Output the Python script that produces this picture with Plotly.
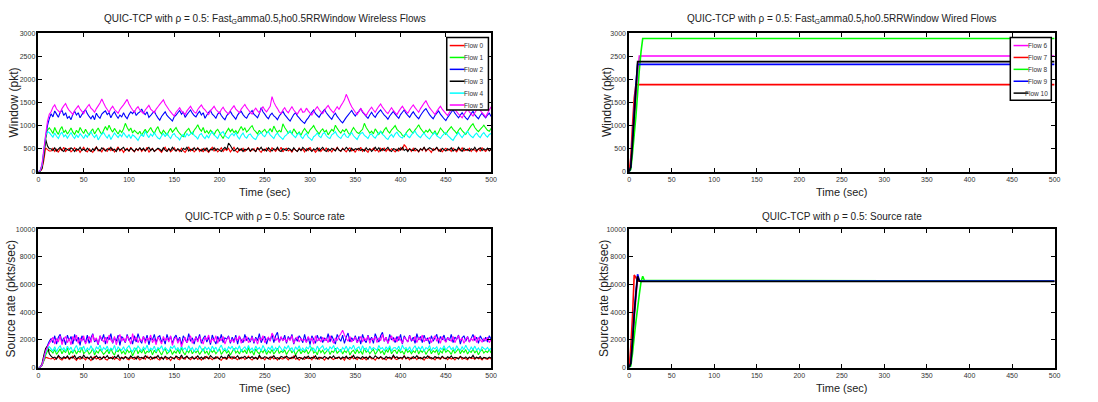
import plotly.graph_objects as go

# ---------------- data ----------------
T_WL = list(range(0, 501, 2))  # wireless time samples (sec)

win_flow0 = [0, 10, 60, 250, 520, 480, 450,
    450,510,440,490,420,500,460,530,440,480,
    510,430,470,520,450,490,420,480,530,460,
    430,500,460,420,490,540,450,480,430,510,
    470,440,520,460,500,430,480,540,450,490,
    420,480,510,440,530,470,430,500,460,520,
    440,490,450,530,420,480,510,440,470,500,
    460,420,490,530,450,500,430,470,520,450,
    490,440,510,460,420,480,540,450,500,430,
    470,520,440,490,430,510,460,420,480,530,
    450,500,430,470,520,440,490,460,510,430,
    480,530,450,420,490,460,510,440,480,520,
    440,470,500,430,530,460,420,490,450,510,
    470,430,520,480,440,500,460,530,430,490,
    510,450,480,420,500,470,440,520,460,490,
    430,500,460,530,450,480,420,470,510,440,
    490,460,520,440,480,430,500,460,530,470,
    440,510,470,430,490,520,450,480,420,500,
    460,530,440,490,460,420,500,470,510,450,
    480,430,510,460,520,440,490,450,500,470,
    430,490,450,520,470,590,540,460,500,440,
    510,450,480,430,500,460,530,440,490,470,
    420,500,470,520,450,490,430,480,510,460,
    490,440,510,470,430,500,460,520,450,480,
    460,510,440,490,470,430,500,450,520,470,
    440,490,460,480]
win_flow1 = [0, 20, 120, 400, 700, 900, 950,
    900,830,960,870,810,920,980,850,900,820,
    880,950,860,810,900,840,960,890,830,920,
    850,790,880,930,820,890,950,870,810,900,
    980,900,1010,920,860,940,880,820,900,850,
    930,1050,960,890,950,840,900,860,820,880,
    790,860,920,840,900,960,880,830,920,980,
    870,820,900,850,800,880,940,860,910,960,
    880,830,790,760,850,900,940,860,820,900,
    950,1020,930,880,960,840,890,830,900,860,
    800,880,920,850,780,720,810,880,940,870,
    920,850,890,830,910,980,900,950,860,900,
    960,1000,910,870,820,900,840,880,920,850,
    870,940,860,990,910,850,900,860,1040,960,
    900,840,880,820,930,870,810,860,790,880,
    940,880,830,910,950,1000,920,870,820,890,
    930,860,900,800,860,920,880,1010,940,880,
    840,910,870,930,850,800,890,960,900,850,
    830,880,920,1050,960,900,840,880,820,930,
    870,810,880,830,910,960,880,840,910,950,
    1000,920,880,850,790,760,840,890,930,870,
    840,910,960,1020,940,890,840,900,860,920,
    860,820,890,790,860,950,900,850,810,880,
    930,980,920,880,830,900,950,890,850,810,
    880,940,1000,1040,960,910,870,920,960,1010,
    950,900,880,940]
win_flow2 = [0, 30, 150, 450, 750, 1000, 1150,
    1260,1190,1320,1250,1180,1290,1330,1220,1280,1160,
    1200,1130,1250,1310,1230,1280,1170,1240,1300,1350,
    1260,1200,1150,1220,1130,1270,1200,1160,1250,1290,
    1320,1240,1280,1170,1250,1300,1220,1160,1230,1190,
    1280,1200,1150,1240,1300,1260,1320,1220,1270,1300,
    1360,1280,1240,1300,1180,1220,1270,1310,1230,1170,
    1120,1200,1250,1300,1220,1180,1140,1100,1190,1230,
    1280,1330,1250,1300,1180,1240,1290,1340,1270,1220,
    1190,1260,1310,1230,1280,1160,1230,1290,1330,1250,
    1210,1160,1250,1290,1220,1170,1130,1220,1260,1310,
    1240,1190,1140,1230,1280,1310,1240,1190,1160,1240,
    1280,1330,1250,1210,1170,1260,1390,1300,1250,1190,
    1150,1230,1270,1210,1180,1130,1210,1260,1310,1240,
    1190,1140,1100,1170,1240,1280,1210,1170,1120,1080,
    1050,1120,1170,1230,1290,1340,1260,1220,1180,1250,
    1300,1350,1280,1230,1180,1140,1220,1270,1200,1150,
    1100,1060,1120,1180,1230,1280,1330,1260,1210,1270,
    1310,1370,1290,1250,1200,1160,1230,1290,1220,1180,
    1250,1300,1340,1280,1230,1190,1140,1210,1260,1310,
    1250,1200,1160,1240,1290,1340,1270,1220,1180,1250,
    1300,1240,1190,1150,1220,1280,1330,1370,1300,1240,
    1190,1150,1220,1270,1320,1250,1200,1150,1110,1180,
    1230,1290,1340,1270,1220,1170,1230,1280,1220,1170,
    1130,1200,1260,1310,1240,1190,1150,1220,1270,1210,
    1170,1230,1270,1200]
win_flow3 = [0, 10, 80, 350, 700, 560, 500,
    500,460,520,450,490,530,470,440,510,480,
    460,520,490,440,500,470,530,460,490,450,
    510,470,440,500,460,530,480,450,520,490,
    450,500,470,530,460,490,440,510,470,500,
    530,460,490,450,510,480,440,500,470,520,
    470,510,450,490,530,460,500,440,480,510,
    490,450,520,470,440,500,460,530,480,450,
    500,470,440,510,480,530,450,490,460,520,
    470,510,480,450,500,460,520,440,490,470,
    520,460,500,470,440,490,530,480,620,570,
    500,450,480,520,460,500,440,490,470,510,
    450,500,470,440,510,480,530,460,490,450,
    520,480,450,500,470,530,460,440,500,480,
    460,510,490,450,520,470,440,500,460,530,
    490,450,510,480,440,500,470,520,450,490,
    530,470,440,500,460,510,480,450,520,470,
    450,500,470,530,490,440,510,460,500,480,
    510,460,490,450,520,470,500,440,480,530,
    470,520,450,500,460,490,530,470,440,500,
    490,450,510,470,530,460,490,440,500,470,
    460,510,480,440,500,470,530,460,490,520,
    500,460,490,530,470,440,510,480,450,500,
    470,520,450,490,460,530,480,440,510,470,
    490,450,500,470,530,460,490,520,460,500,
    470,510,450,490]
win_flow4 = [0, 20, 130, 450, 800, 870, 850,
    800,750,840,770,720,810,860,760,800,730,
    790,850,770,720,800,740,830,780,720,800,
    750,830,870,790,740,810,690,760,820,850,
    780,730,810,700,770,840,790,740,810,760,
    850,790,740,810,720,800,770,730,680,760,
    810,760,880,800,740,820,770,850,780,730,
    710,780,830,760,840,770,720,800,830,760,
    740,690,770,810,750,830,780,820,860,790,
    760,710,800,830,760,720,790,730,820,870,
    800,760,720,810,840,870,790,750,720,790,
    830,780,850,760,710,790,840,760,730,800,
    820,760,720,700,780,820,850,790,760,830,
    870,800,760,720,800,840,780,740,700,770,
    800,850,890,820,780,740,810,840,760,720,
    790,830,750,720,680,760,790,840,770,740,
    820,850,780,740,720,800,830,870,790,750,
    720,790,830,760,740,810,850,780,740,700,
    780,830,850,790,760,720,800,820,760,730,
    790,840,870,810,780,730,700,770,810,750,
    820,860,790,750,730,790,830,770,740,800,
    850,880,810,770,740,800,840,780,740,710,
    770,820,850,780,750,720,780,820,850,790,
    750,710,680,750,800,850,790,740,800,840,
    880,810,770,740,800,840,780,740,810,850,
    790,750,810,830]
win_flow5 = [0, 30, 160, 500, 800, 1100, 1250,
    1300,1400,1450,1360,1320,1280,1370,1430,1480,1390,
    1330,1290,1240,1330,1380,1430,1360,1310,1260,1350,
    1410,1460,1380,1340,1290,1370,1430,1490,1580,1490,
    1410,1350,1290,1370,1420,1350,1310,1270,1350,1400,
    1450,1510,1570,1470,1400,1340,1290,1370,1410,1340,
    1300,1260,1340,1390,1440,1360,1320,1280,1360,1410,
    1460,1510,1560,1470,1410,1350,1300,1250,1210,1290,
    1340,1390,1320,1280,1240,1320,1370,1420,1350,1300,
    1270,1350,1400,1450,1380,1340,1290,1240,1320,1370,
    1420,1350,1310,1270,1350,1400,1330,1290,1250,1330,
    1380,1430,1360,1320,1280,1360,1410,1460,1390,1340,
    1290,1250,1330,1380,1320,1280,1350,1410,1340,1300,
    1360,1420,1630,1510,1430,1370,1300,1260,1340,1390,
    1320,1280,1350,1410,1340,1290,1250,1320,1370,1290,
    1300,1380,1320,1270,1230,1300,1360,1410,1350,1300,
    1260,1330,1390,1440,1370,1320,1280,1350,1410,1350,
    1430,1490,1560,1680,1590,1490,1410,1350,1290,1240,
    1310,1370,1310,1260,1220,1290,1350,1400,1340,1290,
    1360,1420,1470,1400,1350,1300,1260,1330,1390,1330,
    1280,1240,1310,1370,1420,1360,1310,1270,1340,1400,
    1450,1390,1340,1290,1370,1430,1490,1540,1460,1390,
    1340,1290,1240,1310,1370,1420,1360,1310,1260,1220,
    1290,1350,1410,1350,1300,1250,1210,1170,1240,1300,
    1360,1300,1250,1210,1280,1340,1390,1330,1280,1240,
    1190,1270,1340,1410]

rate_flow0 = [0, 20, 150, 500, 750, 700, 650,
    620,720,560,680,790,610,540,700,650,760,
    580,690,820,640,520,710,600,750,680,560,
    730,640,500,690,780,620,700,560,650,810,
    600,540,720,660,780,590,700,630,520,740,
    680,800,610,560,720,650,590,770,690,540,
    650,740,600,830,680,560,720,640,790,610,
    550,700,660,760,590,680,510,720,650,790,
    620,560,740,680,600,820,650,570,710,630,
    770,590,680,540,720,640,800,610,690,560,
    700,640,780,600,530,720,660,590,750,680,
    610,790,650,560,710,630,760,580,690,820,
    640,540,720,680,600,770,630,700,560,740,
    650,580,800,620,700,540,730,660,610,780,
    690,560,720,640,850,600,680,530,720,650,
    590,760,640,700,560,810,630,690,600,740,
    660,540,720,610,780,650,580,700,640,760,
    600,690,530,740,660,590,820,630,700,570,
    750,640,600,720,560,690,780,620,660,540,
    710,640,780,600,680,550,730,660,600,800,
    640,570,720,690,600,880,620,700,560,740,
    650,720,580,760,630,690,540,710,660,790,
    610,680,560,740,650,600,780,640,700,570,
    730,620,690,550,720,660,800,600,680,640,
    560,740,650,700,590,760,630,680,550,720,
    640,600,700,620]
rate_flow1 = [0, 20, 150, 500, 900, 1200, 1300,
    1200,1050,1300,950,1150,1350,1000,1250,1080,1400,
    920,1180,1050,1300,980,1220,1100,1450,1000,1150,
    1250,980,1120,1380,900,1200,1050,1320,1150,950,
    1100,1280,1000,1400,1080,900,1250,1150,1350,1020,
    1180,950,1300,1080,1220,850,1150,1420,1000,1250,
    1050,1350,980,1180,1100,1300,920,1250,1050,1400,
    1150,900,1200,1350,1000,1120,1280,950,1180,1050,
    1300,1000,1450,1100,920,1250,1080,1350,1000,1200,
    1080,1250,950,1150,1380,1020,1200,900,1300,1100,
    1250,1000,1180,1350,950,1150,1280,1050,1220,900,
    1150,1400,1050,1200,980,1300,1100,1250,1000,1450,
    1050,1200,900,1350,1120,1000,1250,1080,1320,950,
    1200,1050,1300,980,1150,1400,1020,1200,1100,1280,
    950,1180,1350,1050,1250,900,1150,1300,1000,1220,
    1100,1300,980,1200,1450,1050,1180,920,1350,1080,
    1250,1000,1150,1320,950,1200,1100,1400,1020,1180,
    1300,980,1220,1080,1350,900,1150,1250,1000,1300,
    1050,1200,950,1400,1100,1250,1000,1180,1320,950,
    1150,1350,1050,1200,920,1300,1100,1450,1000,1200,
    1250,1000,1300,1080,1180,950,1350,1100,1220,1000,
    1200,1080,1400,980,1250,1100,1300,950,1180,1350,
    1000,1220,1100,1300,900,1200,1050,1400,1100,1250,
    1150,950,1300,1050,1200,1380,1000,1250,1080,1300,
    980,1200,1100,1350,1050,1250,920,1180,1300,1050,
    1200,1100,1300,1050]
rate_flow2 = [0, 30, 200, 700, 1200, 1600, 1900,
    2100,1800,2300,1700,2200,2400,1850,2150,1650,2350,
    1950,2250,1700,2400,1900,2200,1600,2300,2050,1800,
    2350,1750,2150,2450,1850,2050,1650,2300,1950,2400,
    1700,2200,2000,2450,1750,2150,1900,2350,1600,2250,
    2050,1800,2400,1950,2200,1700,2300,1850,2450,2000,
    1750,2250,1900,2350,1650,2150,2000,2400,1800,2200,
    2300,1850,2100,1700,2400,1950,2250,1750,2150,2350,
    1900,2200,1650,2300,2050,1800,2450,1900,2150,1700,
    2250,1950,2400,1750,2100,2300,1850,2200,1650,2350,
    2000,1700,2250,1900,2400,1800,2150,2050,2300,1750,
    2200,1900,2350,1700,2250,2000,1800,2400,1950,2150,
    1850,2300,1750,2200,1950,2450,1800,2100,2250,1700,
    2150,1950,2400,1800,2300,2550,1850,2200,1950,2350,
    1750,2250,2000,2400,1700,2150,1900,2300,2100,1800,
    2400,1850,2200,1650,2300,2050,1750,2350,1950,2250,
    1800,2150,1950,2450,1850,2300,2000,1700,2400,2100,
    1900,2350,1750,2200,2500,1850,2150,1950,2300,1800,
    2250,1700,2400,2000,1800,2350,1950,2200,1750,2450,
    2100,1850,2300,2550,1900,2200,1750,2400,2000,2150,
    1800,2250,1950,2400,1700,2300,2050,1850,2350,1900,
    2200,1750,2450,2000,2250,1800,2350,1950,2150,1700,
    2300,1900,2150,2400,1750,2250,2000,2350,1850,2200,
    1950,2400,1800,2200,2050,2350,1700,2150,2300,1900,
    2250,1850,2100,2400,1950,2200,1750,2300,2050,1900,
    2200,1850,2300,2050]
rate_flow3 = [0, 30, 300, 900, 1400, 1550, 1000,
    820,700,760,620,880,720,650,780,690,840,
    640,750,690,870,620,730,800,660,910,710,
    760,640,800,580,720,850,690,760,620,780,
    700,860,650,740,620,800,700,900,660,730,
    620,780,710,650,840,700,760,610,820,690,
    740,640,860,720,680,790,630,750,700,880,
    660,760,600,820,720,650,780,700,620,840,
    750,680,900,640,730,820,660,710,780,620,
    700,840,650,760,610,800,720,660,870,740,
    640,780,700,620,820,690,760,640,950,720,
    780,660,720,850,630,760,700,820,650,740,
    690,800,640,750,620,880,700,660,790,720,
    640,770,700,860,660,720,610,800,740,680,
    830,700,650,760,690,900,640,740,700,610,
    780,680,820,650,730,690,860,620,760,700,
    660,800,720,640,780,700,850,660,720,760,
    620,760,690,830,650,740,700,880,640,770,
    710,640,800,680,760,620,820,700,660,850,
    740,660,780,700,620,800,690,760,640,900,
    700,780,640,740,680,820,650,760,700,630,
    800,700,860,660,740,620,780,700,850,680,
    720,640,800,690,760,650,820,700,630,780,
    690,850,660,740,700,620,800,720,660,770,
    640,760,700,880,650,730,690,800,620,740,
    700,660,760,690]
rate_flow4 = [0, 30, 200, 600, 1100, 1400, 1500,
    1350,1200,1500,1150,1420,1580,1250,1450,1180,1550,
    1280,1480,1120,1380,1600,1220,1450,1300,1550,1150,
    1420,1250,1580,1300,1150,1480,1350,1620,1200,1450,
    1300,1550,1180,1400,1280,1600,1150,1480,1350,1250,
    1500,1200,1420,1580,1300,1150,1450,1250,1550,1380,
    1200,1480,1300,1620,1180,1400,1280,1550,1150,1450,
    1350,1580,1220,1450,1300,1150,1500,1380,1600,1250,
    1450,1180,1550,1300,1420,1200,1580,1280,1450,1150,
    1400,1250,1600,1350,1180,1500,1280,1450,1200,1550,
    1300,1480,1150,1420,1620,1250,1400,1180,1500,1350,
    1550,1200,1450,1300,1580,1150,1380,1500,1250,1600,
    1250,1420,1180,1550,1300,1450,1200,1600,1350,1150,
    1480,1300,1580,1200,1450,1250,1550,1380,1180,1500,
    1350,1600,1250,1450,1150,1500,1300,1580,1220,1420,
    1200,1480,1350,1620,1250,1400,1150,1550,1300,1450,
    1580,1250,1420,1180,1500,1350,1600,1200,1450,1300,
    1150,1450,1300,1550,1200,1480,1350,1620,1250,1400,
    1500,1200,1580,1300,1420,1150,1550,1280,1450,1350,
    1250,1600,1350,1450,1200,1500,1300,1580,1180,1420,
    1450,1300,1550,1200,1620,1350,1450,1250,1500,1150,
    1400,1580,1250,1480,1300,1550,1180,1450,1350,1600,
    1200,1450,1350,1500,1150,1420,1300,1580,1250,1450,
    1550,1300,1450,1200,1580,1350,1250,1500,1300,1620,
    1350,1200,1480,1300,1550,1250,1420,1180,1500,1380,
    1300,1450,1250,1400]
rate_flow5 = [0, 30, 200, 700, 1200, 1500, 1750,
    1950,2200,1700,2100,1850,2300,1650,2050,2250,1800,
    2100,1650,2250,1950,2350,1750,2150,1900,2300,1700,
    2000,2250,1800,2400,1950,2150,1700,2300,2050,1850,
    2200,1750,2350,2000,1800,2250,1650,2100,2400,1900,
    2150,1850,2300,2050,1700,2450,1950,2200,1800,2100,
    1900,2250,1750,2150,2000,2350,1800,2100,1650,2200,
    2000,1700,2250,1950,2150,1850,2300,1600,2050,2200,
    1750,2100,1500,1900,2200,1800,2050,2300,1750,2000,
    2150,1850,2250,1950,1700,2200,2000,2350,1800,2100,
    1900,2300,1750,2150,1950,2250,1700,2050,2200,1850,
    2050,1800,2200,1950,2300,1750,2100,1900,2250,1800,
    1950,2200,1850,2100,1700,2150,2000,2300,1800,2050,
    2200,1900,2500,2250,1950,2150,1800,2250,1950,2100,
    1850,2150,1950,2300,1750,2050,2200,1850,2100,1950,
    2050,1800,2250,1950,2150,1700,2300,1900,2100,1850,
    2200,1950,2100,1800,2300,2000,1750,2150,1950,2250,
    2450,2700,2350,2100,1900,2250,1850,2050,2200,1800,
    2000,2250,1850,2150,1950,2300,1750,2100,2000,2250,
    1800,2150,1950,2400,1900,2200,1750,2050,2300,1900,
    2150,1850,2250,2000,1750,2200,2050,1850,2300,2000,
    1950,2250,1800,2150,2000,2350,1850,2100,1950,2200,
    1800,2100,2300,1900,2150,1750,2250,2000,1850,2150,
    2050,1900,2250,1800,2100,2300,1950,2150,1750,2050,
    2200,1850,2100,1950,2300,1800,2150,2000,1850,2100,
    1950,2200,1800,2050]

T_WD = [0, 2, 4, 6, 8, 10, 12, 14, 16, 18, 500]  # wired time samples (sec)
win_flow6  = [0, 100, 600, 1100, 1600, 2100, 2510, 2510, 2510, 2510, 2510]
win_flow7  = [0, 300, 1000, 1600, 1890, 1890, 1890, 1890, 1890, 1890, 1890]
win_flow8  = [0, 50, 400, 800, 1200, 1700, 2200, 2600, 2890, 2890, 2890]
win_flow9  = [0, 100, 700, 1300, 1900, 2330, 2330, 2330, 2330, 2330, 2330]
win_flow10 = [0, 100, 600, 1200, 1800, 2390, 2390, 2390, 2390, 2390, 2390]

rate_flow6  = [0, 500, 2000, 3500, 5000, 6600, 6300, 6280, 6280, 6280, 6280]
rate_flow7  = [0, 1500, 3700, 6700, 6500, 6250, 6250, 6250, 6250, 6250, 6250]
rate_flow8  = [0, 100, 1000, 2200, 3300, 4300, 5300, 6200, 6600, 6300, 6250]
rate_flow9  = [0, 300, 2000, 4000, 5500, 6750, 6300, 6250, 6250, 6250, 6250]
rate_flow10 = [0, 300, 1800, 3800, 5300, 6600, 6250, 6220, 6220, 6220, 6220]

WL_NAMES = ["Flow 0", "Flow 1", "Flow 2", "Flow 3", "Flow 4", "Flow 5"]
WD_NAMES = ["Flow 6", "Flow 7", "Flow 8", "Flow 9", "Flow 10"]
WL_COLORS = ["#ff0000", "#00ff00", "#0000ff", "#000000", "#00ffff", "#ff00ff"]
WD_COLORS = ["#ff00ff", "#ff0000", "#00ff00", "#0000ff", "#000000"]

X_TICKS = [0, 50, 100, 150, 200, 250, 300, 350, 400, 450, 500]
WIN_TICKS = [0, 500, 1000, 1500, 2000, 2500, 3000]
RATE_TICKS = [0, 2000, 4000, 6000, 8000, 10000]

# ---------------- figure ----------------
NARROW = "Liberation Sans Narrow, Arial Narrow, Liberation Sans, Arial"
SANS = "Liberation Sans, Arial"
W, H = 1098, 402

fig = go.Figure()

def add(x, y, name, color, xa, ya, width):
    n = min(len(x), len(y))
    fig.add_trace(go.Scatter(x=x[:n], y=y[:n], mode="lines", name=name,
                             line=dict(color=color, width=width,
                                       simplify=False),
                             xaxis=xa, yaxis=ya, showlegend=False))

wl_win = [win_flow0, win_flow1, win_flow2, win_flow3, win_flow4, win_flow5]
wl_rate = [rate_flow0, rate_flow1, rate_flow2, rate_flow3, rate_flow4, rate_flow5]
wd_win = [win_flow6, win_flow7, win_flow8, win_flow9, win_flow10]
wd_rate = [rate_flow6, rate_flow7, rate_flow8, rate_flow9, rate_flow10]

for n, c, y in zip(WL_NAMES, WL_COLORS, wl_win):
    add(T_WL, y, n, c, "x", "y", 1.1)
for n, c, y in zip(WD_NAMES, WD_COLORS, wd_win):
    add(T_WD, y, n, c, "x2", "y2", 1.6)
for n, c, y in zip(WL_NAMES, WL_COLORS, wl_rate):
    add(T_WL, y, n, c, "x3", "y3", 1.1)
for n, c, y in zip(WD_NAMES, WD_COLORS, wd_rate):
    add(T_WD, y, n, c, "x4", "y4", 1.6)

def px_x(p):
    return p / W

def px_y(p):
    return 1 - p / H

XL = [px_x(36.7), px_x(492.7)]
XR = [px_x(631.7), px_x(1060.3)]
YT = [px_y(170.7), px_y(30)]
YB = [px_y(370), px_y(229.3)]

axis_common = dict(showline=True, linecolor="black", linewidth=1.5,
                   mirror="ticks", ticks="inside", ticklen=4,
                   tickcolor="black", tickwidth=1, showgrid=False,
                   zeroline=False,
                   tickfont=dict(family=NARROW, size=7, color="#333333"))

def xa(domain, anchor):
    return dict(domain=domain, anchor=anchor, range=[0, 500],
                tickvals=X_TICKS, ticktext=[str(v) for v in X_TICKS],
                **axis_common)

def ya(domain, anchor, rng, ticks):
    return dict(domain=domain, anchor=anchor, range=rng,
                tickvals=ticks, ticktext=[str(v) for v in ticks],
                **axis_common)

fig.update_layout(
    width=W, height=H, margin=dict(l=0, r=0, t=0, b=0),
    paper_bgcolor="white", plot_bgcolor="white", showlegend=False,
    xaxis=xa(XL, "y"), yaxis=ya(YT, "x", [0, 3000], WIN_TICKS),
    xaxis2=xa(XR, "y2"), yaxis2=ya(YT, "x2", [0, 3000], WIN_TICKS),
    xaxis3=xa(XL, "y3"), yaxis3=ya(YB, "x3", [0, 10000], RATE_TICKS),
    xaxis4=xa(XR, "y4"), yaxis4=ya(YB, "x4", [0, 10000], RATE_TICKS),
)

# ---------- legends (MATLAB-style compact boxes) ----------
def draw_legend(names, colors, box, line_x, text_x, y0, step):
    fig.add_shape(type="rect", xref="paper", yref="paper", layer="above",
                  x0=px_x(box[0]), x1=px_x(box[1]),
                  y0=px_y(box[3]), y1=px_y(box[2]),
                  line=dict(color="black", width=1.5), fillcolor="white")
    for i, (n, c) in enumerate(zip(names, colors)):
        yy = px_y(y0 + step * i)
        fig.add_shape(type="line", xref="paper", yref="paper", layer="above",
                      x0=px_x(line_x[0]), x1=px_x(line_x[1]), y0=yy, y1=yy,
                      line=dict(color=c, width=1.5))
        fig.add_annotation(text=n, x=px_x(text_x), y=yy, xref="paper",
                           yref="paper", showarrow=False, xanchor="right",
                           yanchor="middle",
                           font=dict(family=NARROW, size=6.5, color="#333333"))

draw_legend(WL_NAMES, WL_COLORS, (448, 490, 34, 108), (451, 466), 488, 42.3, 12.1)
draw_legend(WD_NAMES, WD_COLORS, (1015.7, 1057, 34, 98), (1019, 1034), 1056, 42.3, 12.1)

title_font = dict(family=NARROW, size=10, color="#222222")
label_font = dict(family=NARROW, size=11, color="#222222")
ylabel_font = dict(family=SANS, size=12, color="#222222")

def ann(text, x, y, font, angle=0):
    fig.add_annotation(text=text, x=x, y=y, xref="paper", yref="paper",
                       showarrow=False, font=font, textangle=angle,
                       xanchor="center", yanchor="middle")

sub_title = "QUIC-TCP with \u03c1 = 0.5: Fast<sub>G</sub>amma0.5<sub>r</sub>ho0.5RRWindow "
ann(sub_title + "Wireless Flows", px_x(264.7), px_y(15), title_font)
ann(sub_title + "Wired Flows", px_x(846), px_y(15), title_font)
ann("QUIC-TCP with \u03c1 = 0.5: Source rate", px_x(264.7), px_y(216), title_font)
ann("QUIC-TCP with \u03c1 = 0.5: Source rate", px_x(846), px_y(216), title_font)

ann("Time (sec)", px_x(264.7), px_y(191.5), label_font)
ann("Time (sec)", px_x(846), px_y(191.5), label_font)
ann("Time (sec)", px_x(264.7), px_y(391), label_font)
ann("Time (sec)", px_x(846), px_y(391), label_font)

ann("Window (pkt)", px_x(12), px_y(100.3), ylabel_font, -90)
ann("Window (pkt)", px_x(609), px_y(100.3), ylabel_font, -90)
ann("Source rate (pkts/sec)", px_x(10), px_y(299.7), ylabel_font, -90)
ann("Source rate (pkts/sec)", px_x(607), px_y(299.7), ylabel_font, -90)

fig.write_html("out.html")
